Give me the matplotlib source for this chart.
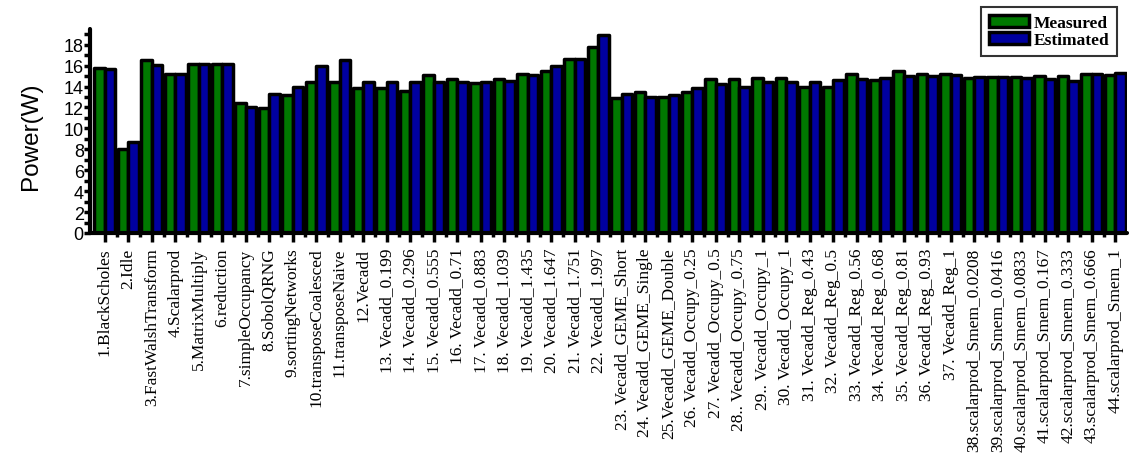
import numpy as np
import matplotlib.pyplot as plt
from matplotlib.patches import Patch
from matplotlib.ticker import MultipleLocator, FixedLocator

benchmarks = [
    '1.BlackScholes', '2.Idle', '3.FastWalshTransform', '4.Scalarprod',
    '5.MatrixMultiply', '6.reduction', '7.simpleOccupancy', '8.SobolQRNG',
    '9.sortingNetworks', '10.transposeCoalesced', '11.transposeNaive',
    '12.Vecadd', '13. Vecadd_0.199', '14. Vecadd_0.296', '15. Vecadd_0.555',
    '16. Vecadd_0.71', '17. Vecadd_0.883', '18. Vecadd_1.039', '19. Vecadd_1.435',
    '20. Vecadd_1.647', '21. Vecadd_1.751', '22. Vecadd_1.997',
    '23. Vecadd_GEME_Short', '24. Vecadd_GEME_Single', '25.Vecadd_GEME_Double',
    '26. Vecadd_Occupy_0.25', '27. Vecadd_Occupy_0.5', '28.. Vecadd_Occupy_0.75',
    '29.. Vecadd_Occupy_1', '30. Vecadd_Occupy_1', '31. Vecadd_Reg_0.43',
    '32. Vecadd_Reg_0.5', '33. Vecadd_Reg_0.56', '34. Vecadd_Reg_0.68',
    '35. Vecadd_Reg_0.81', '36. Vecadd_Reg_0.93', '37. Vecadd_Reg_1',
    '38.scalarprod_Smem_0.0208', '39.scalarprod_Smem_0.0416',
    '40.scalarprod_Smem_0.0833', '41.scalarprod_Smem_0.167',
    '42.scalarprod_Smem_0.333', '43.scalarprod_Smem_0.666', '44.scalarprod_Smem_1',
]

measured = [
    15.8, 8.0, 16.5, 15.2, 16.2, 16.2, 12.4, 11.9, 13.2, 14.4, 14.4,
    13.9, 13.9, 13.6, 15.1, 14.7, 14.3, 14.7, 15.2, 15.5, 16.6, 17.8,
    12.9, 13.5, 13.0, 13.5, 14.7, 14.7, 14.8, 14.8, 14.0, 14.0, 15.2,
    14.6, 15.5, 15.2, 15.2, 14.8, 14.9, 14.9, 15.0, 15.0, 15.2, 15.1,
]
estimated = [
    15.7, 8.7, 16.1, 15.2, 16.2, 16.2, 12.0, 13.3, 14.0, 16.0, 16.5,
    14.4, 14.4, 14.4, 14.4, 14.4, 14.4, 14.5, 15.1, 16.0, 16.6, 18.9,
    13.3, 13.0, 13.2, 13.9, 14.2, 14.0, 14.4, 14.4, 14.4, 14.6, 14.7,
    14.8, 15.0, 15.0, 15.1, 14.9, 14.9, 14.8, 14.7, 14.5, 15.2, 15.3,
]

green = '#007800'
blue = '#0000a0'
bar_w = 0.45
edge_lw = 2.5

fig = plt.figure(figsize=(11.31, 4.64), dpi=100)
ax = fig.add_axes([0.0796, 0.4957, 0.9169, 0.4397])

x = np.arange(len(benchmarks))
ax.bar(x - bar_w/2, measured, bar_w, color=green, edgecolor='k',
       linewidth=edge_lw, joinstyle='round')
ax.bar(x + bar_w/2, estimated, bar_w, color=blue, edgecolor='k',
       linewidth=edge_lw, joinstyle='round')

ax.set_xlim(-0.63, 43.5)
ax.set_ylim(0, 19.5)

# x axis: long ticks on groups, short ticks between groups
ax.set_xticks(x)
ax.set_xticklabels(benchmarks, rotation=90, family='Liberation Serif', fontsize=12.5)
ax.xaxis.set_minor_locator(FixedLocator(x[:-1] + 0.5))
ax.tick_params(axis='x', which='major', length=6.5, width=2.5, pad=4)
ax.tick_params(axis='x', which='minor', length=3, width=2.5)

# y axis
ax.yaxis.set_major_locator(MultipleLocator(2))
ax.yaxis.set_minor_locator(MultipleLocator(1))
ax.tick_params(axis='y', which='both', length=4, width=2.5, pad=0.5)
for t in ax.get_yticklabels():
    t.set_family('Liberation Sans')
    t.set_fontsize(13)
ax.set_ylabel('Power(W)', family='Liberation Sans', fontsize=17.5)
ax.yaxis.set_label_coords(-0.046, 0.48)

for side in ['top', 'right']:
    ax.spines[side].set_visible(False)
for side in ['left', 'bottom']:
    ax.spines[side].set_linewidth(3)
    ax.spines[side].set_capstyle('round')

handles = [Patch(facecolor=green, edgecolor='k', linewidth=edge_lw, joinstyle='round', label='Measured'),
           Patch(facecolor=blue, edgecolor='k', linewidth=edge_lw, joinstyle='round', label='Estimated')]
leg = ax.legend(handles=handles, loc='upper right', bbox_to_anchor=(0.988, 0.983),
                bbox_transform=fig.transFigure, borderaxespad=0, fancybox=False,
                prop={'family': 'Liberation Serif', 'weight': 'bold', 'size': 12.5},
                handlelength=2.3, handleheight=0.7, labelspacing=0.05,
                handletextpad=0.3, borderpad=0.45)
leg.get_frame().set_edgecolor('k')
leg.get_frame().set_linewidth(1.5)

fig.savefig('out.png', dpi=100)
